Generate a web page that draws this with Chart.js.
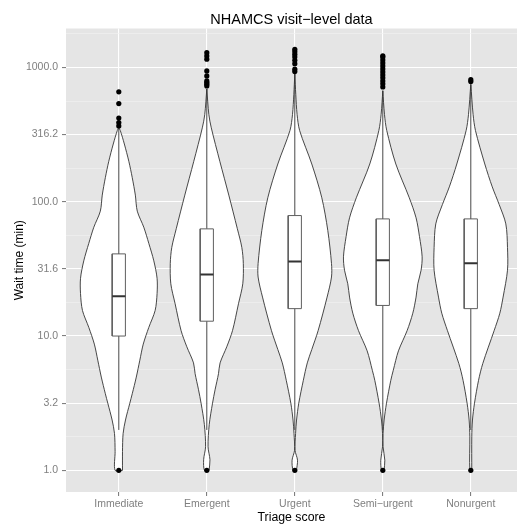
<!DOCTYPE html>
<html lang="en">
  <head>
    <meta charset="UTF-8" />
    <script src="https://cdn.jsdelivr.net/npm/chart.js@4.4.1/dist/chart.umd.min.js"></script>
    <title>NHAMCS visit-level data</title>
    <style>
      body {
        margin: 0;
        padding: 0;
        background: white;
      }
    </style>
  </head>
  <body>
    <canvas id="chart" width="517" height="525"></canvas>
    <script>
      const categories = ['Immediate', 'Emergent', 'Urgent', 'Semi−urgent', 'Nonurgent']

      // boxplot stats (minutes)
      const lowerWhisker = [2, 2, 2, 2, 2]
      const q1 = [10, 12.9, 16, 16.9, 16]
      const median = [19.8, 28.7, 35.9, 36.7, 34.9]
      const q3 = [40.9, 62.8, 78.9, 74.5, 74.5]
      const upperWhisker = [349, 692, 893, 676, 741]
      const outliers = [
        [1, 367, 389, 420, 538, 658],
        [1, 728, 750, 771, 794, 865, 942, 1151, 1217, 1288],
        [1, 931, 970, 1067, 1131, 1197, 1253, 1309, 1365],
        [1, 716, 755, 794, 836, 879, 925, 975, 1026, 1080, 1138, 1197, 1217],
        [1, 784, 811],
      ]

      // violin outlines: wait time (min) and half width (category units)
      const violinWait = [
        [1, 1.38, 1.88, 2.37, 3.16, 3.72, 4.95, 6.61, 8.71, 11.6, 15.5, 20.7, 26.9, 36.3, 49, 64.6, 85.1, 112, 151, 200, 269, 339, 355],
        [1, 1.2, 1.5, 2.2, 3.16, 3.98, 5.25, 6.31, 8.32, 10.96, 17.4, 24.5, 34.7, 45.7, 63, 112, 200, 355, 447, 692],
        [1, 1.19, 1.41, 1.88, 2.37, 3.16, 4.68, 6.31, 7.94, 10.96, 19.5, 27.5, 34.7, 61, 107, 191, 339, 447, 631, 891],
        [1, 1.19, 1.5, 1.88, 2.37, 3.16, 4.68, 5.56, 7.76, 10.96, 14.8, 19.5, 24.5, 30.9, 38.9, 55, 75.9, 107, 191, 339, 447, 668],
        [1, 1.78, 2.37, 3.16, 4.68, 6.24, 10.96, 14.8, 19.5, 30.9, 45.7, 68.4, 95.5, 129, 191, 339, 447, 750],
      ]
      const violinWidth = [
        [.042, .042, .049, .076, .125, .153, .199, .239, .278, .341, .413, .435, .435, .398, .341, .284, .21, .188, .153, .114, .063, .017, 0],
        [.026, .036, .014, .028, .065, .094, .133, .151, .227, .292, .36, .409, .415, .398, .347, .25, .148, .051, .023, 0],
        [.019, .031, .003, .009, .02, .045, .097, .142, .193, .265, .367, .417, .417, .375, .307, .193, .055, .026, .011, 0],
        [.014, .023, .003, .003, .015, .042, .091, .119, .178, .276, .341, .378, .398, .435, .447, .417, .378, .301, .148, .045, .019, 0],
        [.011, .011, .019, .042, .088, .136, .265, .33, .367, .417, .417, .398, .322, .244, .159, .053, .026, 0],
      ]

      const yTicks = [1, 1.778, 3.162, 5.623, 10, 17.78, 31.62, 56.23, 100, 177.8, 316.2, 562.3, 1000, 1778]
      const boxHalf = 0.075

      const datasets = []
      categories.forEach((cat, i) => {
        const c = i + 1
        const w = violinWidth[i]
        const v = violinWait[i]
        const pts = []
        v.forEach((y, k) => pts.push({ x: c + w[k], y }))
        for (let k = v.length - 1; k >= 0; k--) pts.push({ x: c - w[k], y: v[k] })
        pts.push(pts[0])
        datasets.push({
          data: pts, order: 4, fill: 'shape', tension: 0.3,
          backgroundColor: '#ffffff', borderColor: '#333333', borderWidth: 0.9, pointRadius: 0,
        })
        datasets.push({
          data: [{ x: c, y: lowerWhisker[i] }, { x: c, y: upperWhisker[i] }], order: 3,
          borderColor: '#333333', borderWidth: 0.9, pointRadius: 0, fill: false,
        })
        datasets.push({
          data: [
            { x: c - boxHalf, y: q1[i] }, { x: c + boxHalf, y: q1[i] },
            { x: c + boxHalf, y: q3[i] }, { x: c - boxHalf, y: q3[i] }, { x: c - boxHalf, y: q1[i] },
          ],
          order: 2, fill: 'shape', backgroundColor: '#ffffff', borderColor: '#5f5f5f', borderWidth: 1, pointRadius: 0,
        })
        datasets.push({
          data: [{ x: c - boxHalf, y: median[i] }, { x: c + boxHalf, y: median[i] }], order: 1,
          borderColor: '#333333', borderWidth: 2, pointRadius: 0, fill: false,
        })
        datasets.push({
          data: outliers[i].map((y) => ({ x: c, y })), order: 0, showLine: false,
          pointRadius: 2.6, pointBackgroundColor: '#000000', pointBorderWidth: 0,
        })
      })

      const panelBg = {
        id: 'panelBg',
        beforeDraw(chart) {
          const { ctx, chartArea: a } = chart
          ctx.save()
          ctx.fillStyle = '#e5e5e5'
          ctx.fillRect(a.left, a.top, a.right - a.left, a.bottom - a.top)
          ctx.restore()
        },
      }

      Chart.defaults.font.family = "'Liberation Sans', Arial, sans-serif"

      new Chart(document.getElementById('chart').getContext('2d'), {
        type: 'line',
        data: { datasets },
        plugins: [panelBg],
        options: {
          responsive: false,
          animation: false,
          events: [],
          layout: { autoPadding: false, padding: 0 },
          plugins: {
            legend: { display: false },
            tooltip: { enabled: false },
            title: {
              display: true,
              fullSize: false,
              text: 'NHAMCS visit−level data',
              color: '#000000',
              font: { size: 14.5, weight: 'normal', lineHeight: 1 },
              padding: { top: 13, bottom: 1 },
            },
          },
          scales: {
            x: {
              type: 'linear',
              min: 0.4,
              max: 5.525,
              afterBuildTicks: (s) => { s.ticks = categories.map((_, i) => ({ value: i + 1 })) },
              afterFit: (s) => {
                s.height = 33
                s.paddingLeft = 0
                s.paddingRight = 0
              },
              border: { display: false },
              grid: { color: '#ffffff', lineWidth: 1.1, tickColor: '#7f7f7f', tickLength: 4 },
              ticks: {
                autoSkip: false, maxRotation: 0, color: '#7f7f7f', padding: 2,
                font: { size: 10.5 },
                callback: (v) => categories[Math.round(v) - 1],
              },
              title: { display: true, text: 'Triage score', color: '#000000', font: { size: 12.3 }, padding: { top: 0, bottom: 0 } },
            },
            y: {
              type: 'logarithmic',
              min: 0.69,
              max: 1949,
              afterBuildTicks: (s) => { s.ticks = yTicks.map((v) => ({ value: v })) },
              afterFit: (s) => {
                s.width = 66
                s.paddingTop = 0
                s.paddingBottom = 0
              },
              border: { display: false },
              grid: {
                color: (c) => (c.index % 2 === 0 ? '#ffffff' : '#f2f2f2'),
                lineWidth: (c) => (c.index % 2 === 0 ? 1.1 : 0.6),
                tickColor: (c) => (c.index % 2 === 0 ? '#7f7f7f' : 'rgba(0,0,0,0)'),
                tickLength: 4,
              },
              ticks: {
                autoSkip: false, color: '#7f7f7f', padding: 4,
                font: { size: 10.5 },
                callback: (v, i) => (i % 2 === 0 ? Number(v).toFixed(1) : ''),
              },
              title: { display: true, text: 'Wait time (min)', color: '#000000', font: { size: 12 }, padding: { top: 12, bottom: 0 } },
            },
          },
        },
      })
    </script>
  </body>
</html>
